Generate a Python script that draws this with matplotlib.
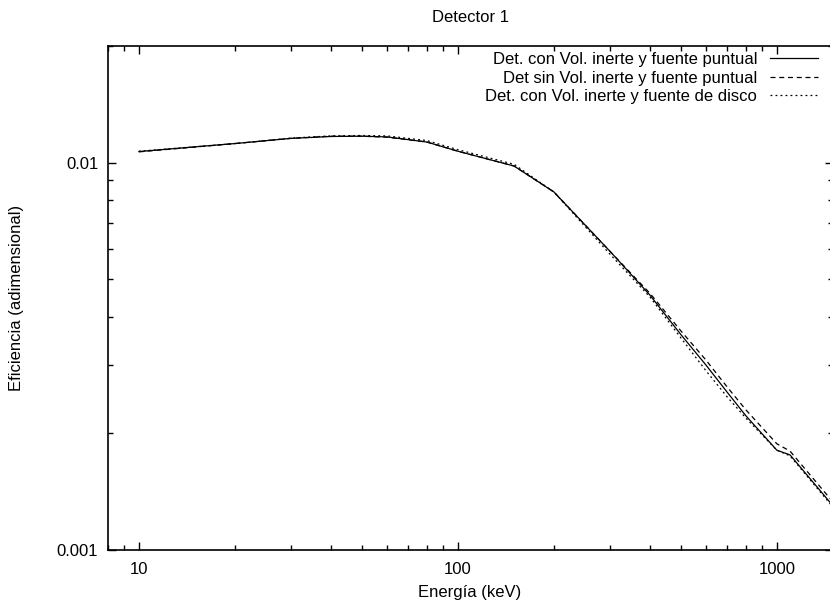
import matplotlib
matplotlib.use("Agg")
import matplotlib.pyplot as plt
from matplotlib.ticker import FixedLocator, FuncFormatter, LogLocator, NullFormatter

plt.rcParams['font.family'] = ['Liberation Sans', 'DejaVu Sans']

energy = [10, 20, 30, 40, 50, 60, 80, 100, 150, 200, 300, 400, 500, 600, 700, 800, 1000, 1100, 1500]
eff_con_puntual = [0.01068, 0.0112, 0.01155, 0.01168, 0.0117, 0.01165, 0.0113, 0.0107, 0.0098, 0.0084,
                   0.0059, 0.00455, 0.0036, 0.00300, 0.00255, 0.00222, 0.00181, 0.00176, 0.00130]
eff_sin_puntual = [0.01066, 0.0112, 0.01155, 0.01170, 0.0117, 0.01163, 0.0113, 0.0107, 0.0098, 0.0084,
                   0.0059, 0.00460, 0.00368, 0.00309, 0.00263, 0.00230, 0.00188, 0.00180, 0.00133]
eff_con_disco = [0.01070, 0.0112, 0.01157, 0.01172, 0.01175, 0.01172, 0.0114, 0.0108, 0.0099, 0.0084,
                 0.0058, 0.00450, 0.00353, 0.00290, 0.00248, 0.00219, 0.00181, 0.00175, 0.00129]

labels = ["Det. con Vol. inerte y fuente puntual",
          "Det sin Vol. inerte y fuente puntual",
          "Det. con Vol. inerte y fuente de disco"]

FS = 12

fig = plt.figure(figsize=(8.3, 6.03), dpi=100)
ax = fig.add_axes([108/830, 1-550/603, (833-108)/830, (550-46)/603])

ax.plot(energy, eff_con_puntual, color='black', lw=0.9, ls='-', label=labels[0])
ax.plot(energy, eff_sin_puntual, color='black', lw=0.9, ls=(0, (4, 3)), label=labels[1])
ax.plot(energy, eff_con_disco, color='black', lw=0.9, ls=(0, (1.5, 2.5)), label=labels[2])

ax.set_xscale('log')
ax.set_yscale('log')
ax.set_xlim(8, 1500)
ax.set_ylim(0.001, 0.02)

ax.xaxis.set_major_locator(FixedLocator([10, 100, 1000]))
ax.xaxis.set_major_formatter(FuncFormatter(lambda v, p: f"{v:g}"))
ax.xaxis.set_minor_locator(LogLocator(base=10, subs=range(2, 10), numticks=20))
ax.xaxis.set_minor_formatter(NullFormatter())
ax.yaxis.set_major_locator(FixedLocator([0.001, 0.01]))
ax.yaxis.set_major_formatter(FuncFormatter(lambda v, p: f"{v:g}"))
ax.yaxis.set_minor_locator(LogLocator(base=10, subs=range(2, 10), numticks=20))
ax.yaxis.set_minor_formatter(NullFormatter())

ax.tick_params(which='both', direction='in', top=True, right=True, width=1.0, labelsize=FS)
ax.tick_params(axis='x', which='both', pad=8.5)
ax.tick_params(axis='y', which='both', pad=7)
ax.tick_params(which='major', length=6)
ax.tick_params(which='minor', length=3.5)
for s in ax.spines.values():
    s.set_linewidth(1.2)

fig.text(470/830, 1-592/603, "Energía (keV)", fontsize=FS, ha='center', va='center')
fig.text(17/830, 1-298/603, "Eficiencia (adimensional)", fontsize=FS, ha='center', va='center',
         rotation=90)
fig.text(470/830, 1-17/603, "Detector 1", fontsize=FS, ha='center', va='center')

leg = ax.legend(loc='upper right', frameon=False, markerfirst=False, fontsize=FS,
                handlelength=2.87, handletextpad=0.78, labelspacing=0.22,
                borderaxespad=0, borderpad=0,
                bbox_to_anchor=(818/830, 1-52/603), bbox_transform=fig.transFigure)

fig.savefig("out.png", dpi=100)
